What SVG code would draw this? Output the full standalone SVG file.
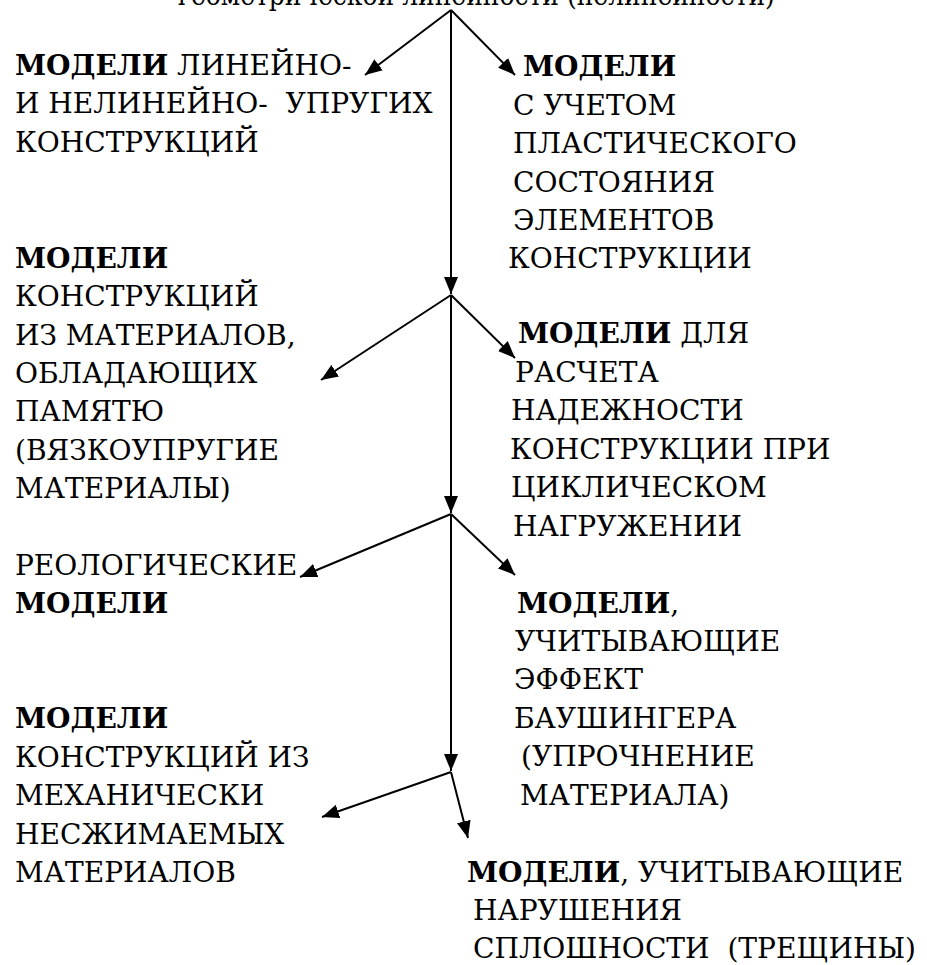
<svg xmlns="http://www.w3.org/2000/svg" width="927" height="965" viewBox="0 0 927 965">
<style>
text{font-size:27px;fill:#000;white-space:pre}
.b{font-weight:bold}
.c{stroke:#000;stroke-width:2;fill:none;marker-end:url(#ah)}
</style>
<defs>
<marker id="ah" markerUnits="userSpaceOnUse" markerWidth="18" markerHeight="14" refX="17" refY="7" orient="auto">
<path d="M0,0 L17,7 L0,14 z" fill="#000"/>
</marker>
</defs>
<rect width="927" height="965" fill="#fff"/>
<g id="connectors">
<line class="c" x1="451" y1="10" x2="451" y2="294"/>
<line class="c" x1="451" y1="10" x2="365" y2="75"/>
<line class="c" x1="451" y1="10" x2="515" y2="75"/>
<line class="c" x1="451" y1="295" x2="451" y2="513"/>
<line class="c" x1="451" y1="295" x2="321" y2="380"/>
<line class="c" x1="451" y1="295" x2="515" y2="358"/>
<line class="c" x1="451" y1="514" x2="451" y2="771"/>
<line class="c" x1="451" y1="514" x2="300" y2="577"/>
<line class="c" x1="451" y1="514" x2="515" y2="575"/>
<line class="c" x1="451" y1="772" x2="322" y2="817"/>
<line class="c" x1="451" y1="772" x2="468" y2="838"/>
</g>
<g transform="scale(1.04 1)" font-family="DejaVu Serif, serif">
<g id="top"><text x="171" y="5" textLength="574" lengthAdjust="spacingAndGlyphs">геометрической линейности (нелинейности)</text></g>
<g id="n1">
<text x="14.4" y="75"><tspan class="b">МОДЕЛИ</tspan> ЛИНЕЙНО-</text>
<text x="14.4" y="113">И НЕЛИНЕЙНО-  УПРУГИХ</text>
<text x="14.4" y="152">КОНСТРУКЦИЙ</text>
</g>
<g id="n2">
<text x="502.9" y="76" class="b">МОДЕЛИ</text>
<text x="493.3" y="115">С УЧЕТОМ</text>
<text x="493.3" y="153">ПЛАСТИЧЕСКОГО</text>
<text x="493.3" y="192">СОСТОЯНИЯ</text>
<text x="493.3" y="230">ЭЛЕМЕНТОВ</text>
<text x="488.5" y="268">КОНСТРУКЦИИ</text>
</g>
<g id="n3">
<text x="14.4" y="268" class="b">МОДЕЛИ</text>
<text x="14.4" y="306">КОНСТРУКЦИЙ</text>
<text x="14.4" y="345">ИЗ МАТЕРИАЛОВ,</text>
<text x="14.4" y="383">ОБЛАДАЮЩИХ</text>
<text x="14.4" y="421">ПАМЯТЮ</text>
<text x="14.4" y="460">(ВЯЗКОУПРУГИЕ</text>
<text x="14.4" y="498">МАТЕРИАЛЫ)</text>
</g>
<g id="n4">
<text x="498.1" y="343"><tspan class="b">МОДЕЛИ</tspan> ДЛЯ</text>
<text x="495.2" y="382">РАСЧЕТА</text>
<text x="491.3" y="420">НАДЕЖНОСТИ</text>
<text x="490.4" y="459">КОНСТРУКЦИИ ПРИ</text>
<text x="491.3" y="497">ЦИКЛИЧЕСКОМ</text>
<text x="493.3" y="536">НАГРУЖЕНИИ</text>
</g>
<g id="n5">
<text x="14.4" y="575">РЕОЛОГИЧЕСКИЕ</text>
<text x="14.4" y="613" class="b">МОДЕЛИ</text>
</g>
<g id="n6">
<text x="497.1" y="613"><tspan class="b">МОДЕЛИ</tspan>,</text>
<text x="495.2" y="651">УЧИТЫВАЮЩИЕ</text>
<text x="494.2" y="689">ЭФФЕКТ</text>
<text x="494.2" y="728">БАУШИНГЕРА</text>
<text x="501" y="766">(УПРОЧНЕНИЕ</text>
<text x="500" y="805">МАТЕРИАЛА)</text>
</g>
<g id="n7">
<text x="14.4" y="728" class="b">МОДЕЛИ</text>
<text x="14.4" y="767">КОНСТРУКЦИЙ ИЗ</text>
<text x="14.4" y="805">МЕХАНИЧЕСКИ</text>
<text x="14.4" y="844">НЕСЖИМАЕМЫХ</text>
<text x="14.4" y="882">МАТЕРИАЛОВ</text>
</g>
<g id="n8">
<text x="449" y="882"><tspan class="b">МОДЕЛИ</tspan>, УЧИТЫВАЮЩИЕ</text>
<text x="454.8" y="920">НАРУШЕНИЯ</text>
<text x="454.8" y="958">СПЛОШНОСТИ  (ТРЕЩИНЫ)</text>
</g>
</g>
</svg>
